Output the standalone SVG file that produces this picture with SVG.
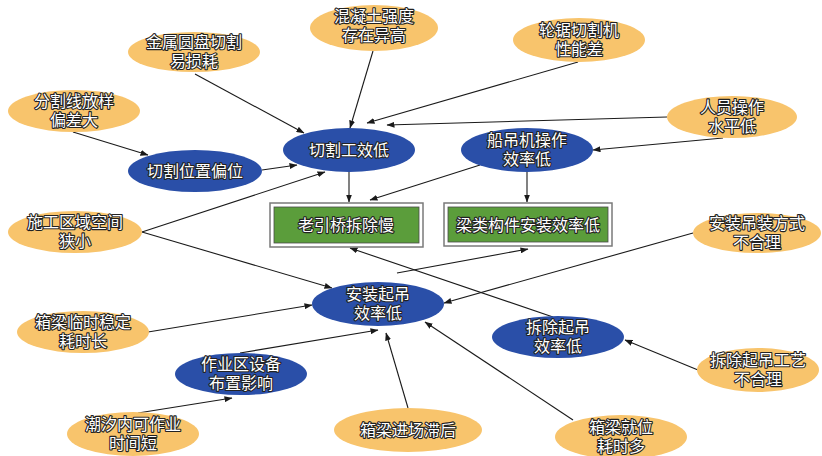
<svg xmlns="http://www.w3.org/2000/svg" width="822" height="456" viewBox="0 0 822 456">
<defs>
<marker id="ah" markerWidth="8" markerHeight="6" refX="7.5" refY="3" orient="auto" markerUnits="userSpaceOnUse">
<path d="M0,0 L8,3 L0,6 z" fill="#1a1a1a"/>
</marker>
<style>
.o{fill:#F8C46C;}
.b{fill:#2A4FA8;}
.t{font-family:"Liberation Sans","Noto Sans CJK SC",sans-serif;font-size:16px;fill:#fff;stroke:#222;stroke-width:2.2px;paint-order:stroke;stroke-linejoin:round;text-anchor:middle;}
.c line{stroke:#1a1a1a;stroke-width:1.1;marker-end:url(#ah);}
.bo{fill:#fff;stroke:#7a7a7a;stroke-width:1.5;}
.bi{fill:#5B9D3B;stroke:#4a4a4a;stroke-width:0.8;}
</style>
</defs>
<rect width="822" height="456" fill="#fff"/>
<g class="c" id="connectors">
<line x1="373" y1="51" x2="350" y2="128"/>
<line x1="195" y1="74" x2="304" y2="133"/>
<line x1="578" y1="62" x2="367" y2="123"/>
<line x1="667" y1="117" x2="387" y2="125"/>
<line x1="723" y1="138" x2="593" y2="150"/>
<line x1="73" y1="132" x2="148" y2="155"/>
<line x1="262" y1="170" x2="297" y2="165"/>
<line x1="142" y1="232" x2="325" y2="172"/>
<line x1="142" y1="232" x2="332" y2="288"/>
<line x1="349" y1="172" x2="349" y2="202"/>
<line x1="480" y1="165" x2="370" y2="200"/>
<line x1="527" y1="172" x2="527" y2="202"/>
<line x1="397" y1="273" x2="528" y2="249"/>
<line x1="553" y1="317" x2="350" y2="248"/>
<line x1="693" y1="233" x2="444" y2="303"/>
<line x1="148" y1="332" x2="312" y2="305"/>
<line x1="240" y1="353" x2="378" y2="330"/>
<line x1="408" y1="408" x2="386" y2="333"/>
<line x1="573" y1="420" x2="425" y2="322"/>
<line x1="698" y1="370" x2="625" y2="340"/>
<line x1="138" y1="413" x2="232" y2="398"/>
</g>
<g id="n-hunningtu"><ellipse class="o" cx="374" cy="28" rx="64" ry="23"/><text class="t" x="374" y="22">混凝土强度</text><text class="t" x="374" y="41">存在异高</text></g>
<g id="n-jinshu"><ellipse class="o" cx="194" cy="52" rx="66" ry="20"/><text class="t" x="194" y="48">金属圆盘切割</text><text class="t" x="194" y="67">易损耗</text></g>
<g id="n-fenge"><ellipse class="o" cx="74" cy="111" rx="66" ry="21"/><text class="t" x="74" y="107">分割线放样</text><text class="t" x="74" y="126">偏差大</text></g>
<g id="n-lunju"><ellipse class="o" cx="579" cy="40" rx="66" ry="22"/><text class="t" x="579" y="36">轮锯切割机</text><text class="t" x="579" y="55">性能差</text></g>
<g id="n-renyuan"><ellipse class="o" cx="732" cy="117" rx="65" ry="21"/><text class="t" x="732" y="113">人员操作</text><text class="t" x="732" y="132">水平低</text></g>
<g id="n-shigong"><ellipse class="o" cx="75" cy="232" rx="67" ry="21"/><text class="t" x="75" y="228">施工区域空间</text><text class="t" x="75" y="247">狭小</text></g>
<g id="n-linshi"><ellipse class="o" cx="83" cy="332" rx="66" ry="21"/><text class="t" x="83" y="328">箱梁临时稳定</text><text class="t" x="83" y="347">耗时长</text></g>
<g id="n-chaoxi"><ellipse class="o" cx="133" cy="434" rx="66" ry="22"/><text class="t" x="133" y="430">潮汐内可作业</text><text class="t" x="133" y="449">时间短</text></g>
<g id="n-jinchang"><ellipse class="o" cx="408" cy="430" rx="74" ry="22"/><text class="t" x="408" y="436">箱梁进场滞后</text></g>
<g id="n-jiuwei"><ellipse class="o" cx="621" cy="437" rx="66" ry="22"/><text class="t" x="621" y="433">箱梁就位</text><text class="t" x="621" y="452">耗时多</text></g>
<g id="n-diaozhuang"><ellipse class="o" cx="757" cy="233" rx="64" ry="20"/><text class="t" x="757" y="229">安装吊装方式</text><text class="t" x="757" y="248">不合理</text></g>
<g id="n-chaichugongyi"><ellipse class="o" cx="758" cy="370" rx="61" ry="22"/><text class="t" x="758" y="366">拆除起吊工艺</text><text class="t" x="758" y="385">不合理</text></g>
<g id="n-qiege"><ellipse class="b" cx="349" cy="150" rx="66" ry="22"/><text class="t" x="349" y="156">切割工效低</text></g>
<g id="n-pianwei"><ellipse class="b" cx="195" cy="171" rx="67" ry="21"/><text class="t" x="195" y="177">切割位置偏位</text></g>
<g id="n-chuandiao"><ellipse class="b" cx="527" cy="150" rx="66" ry="22"/><text class="t" x="527" y="146">船吊机操作</text><text class="t" x="527" y="165">效率低</text></g>
<g id="n-anzhuang"><ellipse class="b" cx="378" cy="304" rx="66" ry="22"/><text class="t" x="378" y="300">安装起吊</text><text class="t" x="378" y="319">效率低</text></g>
<g id="n-chaichu"><ellipse class="b" cx="558" cy="337" rx="66" ry="21"/><text class="t" x="558" y="333">拆除起吊</text><text class="t" x="558" y="352">效率低</text></g>
<g id="n-zuoye"><ellipse class="b" cx="241" cy="374" rx="66" ry="21"/><text class="t" x="241" y="370">作业区设备</text><text class="t" x="241" y="389">布置影响</text></g>
<g id="n-laoyinqiao"><rect class="bo" x="270" y="203" width="153" height="44"/><rect class="bi" x="274" y="207" width="145" height="36"/><text class="t" x="346" y="231">老引桥拆除慢</text></g>
<g id="n-liangle"><rect class="bo" x="444" y="203" width="168" height="43"/><rect class="bi" x="448" y="207" width="160" height="35"/><text class="t" x="528" y="231">梁类构件安装效率低</text></g>
</svg>
